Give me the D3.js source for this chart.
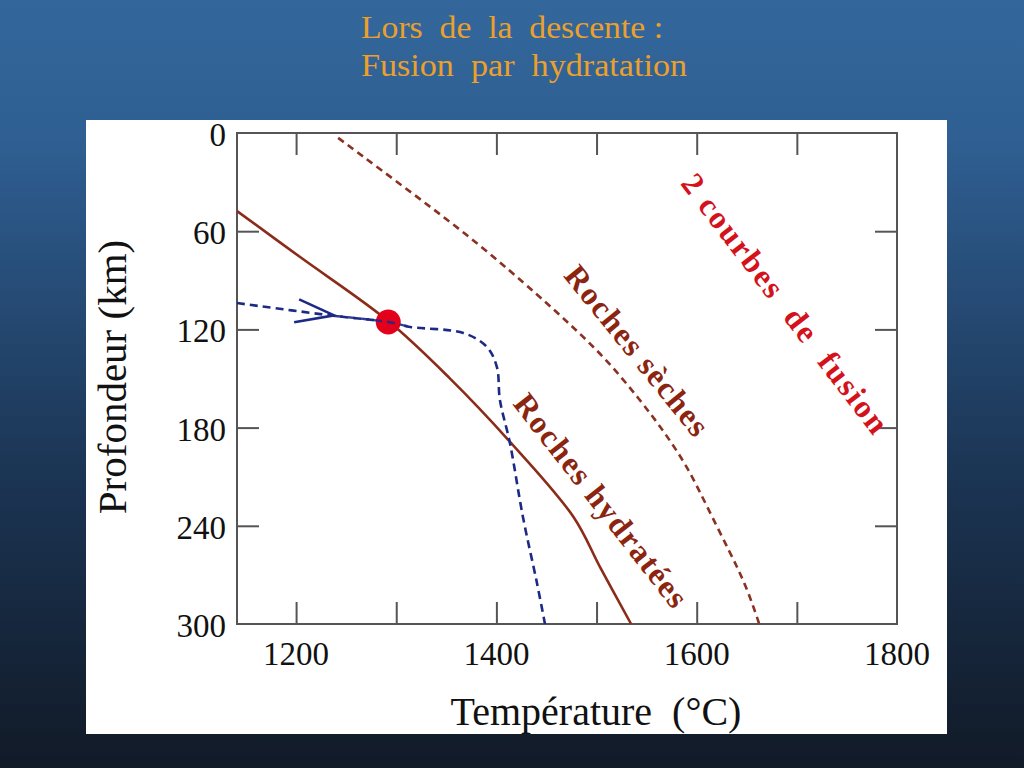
<!DOCTYPE html>
<html>
<head>
<meta charset="utf-8">
<script src="https://cdn.jsdelivr.net/npm/d3@7"></script>
<style>
html,body{margin:0;padding:0;width:1024px;height:768px;overflow:hidden;}
svg{display:block;}
</style>
</head>
<body>
<svg id="chart" width="1024" height="768"></svg>
<script>
// ---------- data (temperature °C, depth km) ----------
const titleLines = ["Lors  de  la  descente :", "Fusion  par  hydratation"];
const titleWidths = [302, 326];
const xTickValues = [1200, 1300, 1400, 1500, 1600, 1700];
const xTickLabels = [1200, 1400, 1600, 1800];
const yTickValues = [60, 120, 180, 240];
const yTickLabels = [0, 60, 120, 180, 240, 300];

// solidus of hydrated rocks (solid)
const hydratedT = [1141, 1204, 1292, 1353, 1412, 1477, 1503.5, 1534.5];
const hydratedD = [47.7, 75.8, 114.9, 149.6, 187.6, 234.6, 265.2, 300];

// solidus of dry rocks (dashed)
const dryT = [1242, 1321, 1384, 1443.5, 1476.5, 1510.5, 1543.5, 1568.5, 1591.5, 1610.5, 1633.5, 1650, 1663];
const dryD = [3, 39, 68.4, 100.2, 118.5, 138.7, 163.1, 183.3, 204.7, 228.5, 256.6, 277.4, 301];

// path of the descending rock (blue dashed)
const pathT = [1141, 1239, 1292, 1314, 1367, 1390.5, 1400.5, 1403.5, 1413.5, 1426.5, 1440.5, 1448.5];
const pathD = [103.9, 111.8, 115.5, 118.5, 122.2, 130.7, 143, 163.1, 189.4, 234.6, 274.9, 300];

const meltPoint = [1292, 115.5];
const arrowTip = [1238, 111.4];

const labelText = ["Roches sèches", "Roches hydratées", "2 courbes  de  fusion"];
const labelT = [1541, 1505, 1689];
const labelD = [133.2, 224.8, 104.5];

// ---------- drawing ----------
const svg = d3.select("#chart");
const W = 1024, H = 768;
const defs = svg.append("defs");
const grad = defs.append("linearGradient").attr("id", "bg")
  .attr("x1", 0).attr("y1", 0).attr("x2", 0).attr("y2", 1);
grad.append("stop").attr("offset", "0").attr("stop-color", "#33679b");
grad.append("stop").attr("offset", "0.18").attr("stop-color", "#2f5f93");
grad.append("stop").attr("offset", "0.6").attr("stop-color", "#1c3656");
grad.append("stop").attr("offset", "1").attr("stop-color", "#111a27");
svg.append("rect").attr("width", W).attr("height", H).attr("fill", "url(#bg)");

const serif = "'Liberation Serif','Times New Roman',Times,serif";

// title
svg.selectAll("text.title").data(titleLines).enter().append("text")
  .attr("class", "title")
  .attr("x", 361).attr("y", (d, i) => 38 + i * 38)
  .attr("fill", "#eca02c")
  .attr("font-family", serif).attr("font-size", 32)
  .attr("textLength", (d, i) => titleWidths[i])
  .attr("lengthAdjust", "spacingAndGlyphs")
  .style("white-space", "pre")
  .text(d => d);

// white panel
svg.append("rect").attr("x", 86).attr("y", 120).attr("width", 861).attr("height", 614).attr("fill", "#ffffff");

const x = d3.scaleLinear().domain([1141, 1800]).range([237, 897]);
const y = d3.scaleLinear().domain([0, 300]).range([133, 624]);

const frameColor = "#555555";
const tickLen = 22;

// axes via d3 (inward ticks, no domain path)
const gBottom = svg.append("g").attr("transform", `translate(0,${y(300)})`)
  .call(d3.axisTop(x).tickValues(xTickValues).tickSize(tickLen).tickFormat(""));
const gTop = svg.append("g").attr("transform", `translate(0,${y(0)})`)
  .call(d3.axisBottom(x).tickValues(xTickValues).tickSize(tickLen).tickFormat(""));
const gLeft = svg.append("g").attr("transform", `translate(${x(1141)},0)`)
  .call(d3.axisRight(y).tickValues(yTickValues).tickSize(tickLen).tickFormat(""));
const gRight = svg.append("g").attr("transform", `translate(${x(1800)},0)`)
  .call(d3.axisLeft(y).tickValues(yTickValues).tickSize(tickLen).tickFormat(""));
[gBottom, gTop, gLeft, gRight].forEach(g => {
  g.select(".domain").remove();
  g.selectAll(".tick line").attr("stroke", frameColor).attr("stroke-width", 2);
});

// frame
svg.append("rect")
  .attr("x", x(1141)).attr("y", y(0))
  .attr("width", x(1800) - x(1141)).attr("height", y(300) - y(0))
  .attr("fill", "none").attr("stroke", frameColor).attr("stroke-width", 2);

// tick labels
svg.selectAll("text.xl").data(xTickLabels).enter().append("text")
  .attr("x", d => x(d)).attr("y", 665)
  .attr("text-anchor", "middle")
  .attr("font-family", serif).attr("font-size", 33).attr("fill", "#111")
  .text(d => d);
svg.selectAll("text.yl").data(yTickLabels).enter().append("text")
  .attr("x", 226).attr("y", d => y(d) + 13)
  .attr("text-anchor", "end")
  .attr("font-family", serif).attr("font-size", 33).attr("fill", "#111")
  .text(d => d);

// axis titles
svg.append("text").attr("x", 596).attr("y", 725)
  .attr("text-anchor", "middle")
  .attr("font-family", serif).attr("font-size", 40).attr("fill", "#111")
  .style("white-space", "pre")
  .text("Température  (°C)");
svg.append("text")
  .attr("transform", "translate(126,377) rotate(-90)")
  .attr("text-anchor", "middle")
  .attr("font-family", serif).attr("font-size", 41).attr("fill", "#111")
  .text("Profondeur (km)");

// curves
const clip = defs.append("clipPath").attr("id", "plotclip");
clip.append("rect").attr("x", x(1141)).attr("y", y(0) - 2)
  .attr("width", x(1800) - x(1141)).attr("height", y(300) - y(0) + 6);

const lineSmooth = d3.line().x(d => x(d[0])).y(d => y(d[1])).curve(d3.curveBasis);
const lineThrough = d3.line().x(d => x(d[0])).y(d => y(d[1])).curve(d3.curveCatmullRom.alpha(0.5));
const zip = (a, b) => a.map((v, i) => [v, b[i]]);

const plot = svg.append("g").attr("clip-path", "url(#plotclip)");

plot.append("path").datum(zip(dryT, dryD)).attr("d", lineSmooth)
  .attr("fill", "none").attr("stroke", "#8a3122").attr("stroke-width", 2.6)
  .attr("stroke-dasharray", "7,5");

plot.append("path").datum(zip(hydratedT, hydratedD)).attr("d", lineThrough)
  .attr("fill", "none").attr("stroke", "#8b2c1a").attr("stroke-width", 2.6);

plot.append("path").datum(zip(pathT, pathD)).attr("d", lineThrough)
  .attr("fill", "none").attr("stroke", "#1c2a86").attr("stroke-width", 2.6)
  .attr("stroke-dasharray", "8,5");

// arrow head (open chevron)
const ax = x(arrowTip[0]), ay = y(arrowTip[1]);
svg.append("path")
  .attr("d", `M${ax - 35},${ay - 16} L${ax},${ay} L${ax - 40},${ay + 7}`)
  .attr("fill", "none").attr("stroke", "#1c2a86").attr("stroke-width", 2.6)
  .attr("stroke-linejoin", "miter");

// melting point
svg.append("circle").attr("cx", x(meltPoint[0])).attr("cy", y(meltPoint[1])).attr("r", 12.5)
  .attr("fill", "#e3001b");
// blue dashes over the dot
svg.append("path").datum(zip(pathT.slice(1, 4), pathD.slice(1, 4))).attr("d", lineThrough)
  .attr("fill", "none").attr("stroke", "#1c2a86").attr("stroke-width", 2.4)
  .attr("stroke-dasharray", "8,5").attr("opacity", 0.9);

// rotated labels
const labelColor = ["#8b2510", "#8b2510", "#d3121c"];
const labelAngle = [51, 52, 52.5];
svg.selectAll("text.lab").data(labelText).enter().append("text")
  .attr("transform", (d, i) => `translate(${x(labelT[i])},${y(labelD[i])}) rotate(${labelAngle[i]})`)
  .attr("text-anchor", "middle").attr("dominant-baseline", "central")
  .attr("font-family", serif).attr("font-size", 32).attr("font-weight", "bold")
  .attr("letter-spacing", (d, i) => i === 2 ? 2 : 1.5)
  .attr("fill", (d, i) => labelColor[i])
  .style("white-space", "pre")
  .text(d => d);
</script>
</body>
</html>
